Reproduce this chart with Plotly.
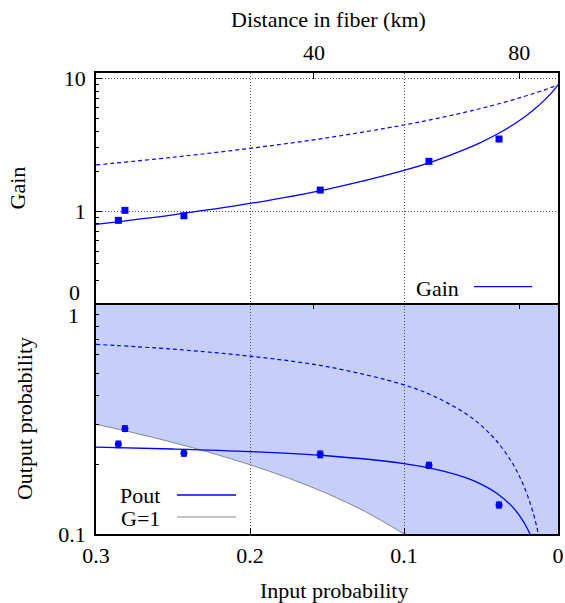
import plotly.graph_objects as go

# ---------------- data ----------------
# theory curves, sampled along input probability
p_gain = [0.3, 0.25, 0.2, 0.15, 0.1, 0.08, 0.06, 0.05, 0.04, 0.03, 0.025, 0.02, 0.015, 0.01, 0.005, 0.002, 0.0]
gain_solid = [0.795, 0.937, 1.141, 1.459, 2.023, 2.392, 2.928, 3.296, 3.771, 4.406, 4.811, 5.298, 5.894, 6.642, 7.607, 8.333, 8.9]
gain_dashed = [2.225, 2.543, 2.967, 3.56, 4.45, 4.944, 5.563, 5.933, 6.357, 6.846, 7.12, 7.417, 7.739, 8.091, 8.476, 8.725, 8.9]

p_pout_solid = [0.3, 0.25, 0.2, 0.15, 0.1, 0.08, 0.06, 0.05, 0.04, 0.03, 0.025, 0.02, 0.015]
pout_solid = [0.2385, 0.2342, 0.2282, 0.2189, 0.2023, 0.1913, 0.1757, 0.1648, 0.1508, 0.1322, 0.1203, 0.1060, 0.0884]
p_pout_dashed = [0.3, 0.25, 0.2, 0.15, 0.1, 0.08, 0.06, 0.05, 0.04, 0.03, 0.025, 0.02, 0.015, 0.01]
pout_dashed = [0.6675, 0.636, 0.593, 0.534, 0.445, 0.3956, 0.3338, 0.2967, 0.2543, 0.2054, 0.178, 0.1483, 0.1161, 0.0809]

# G = 1 line (Pout = Pin)
p_g1 = [0.3, 0.275, 0.25, 0.225, 0.2, 0.175, 0.15, 0.125, 0.1]
pout_g1 = [0.3, 0.275, 0.25, 0.225, 0.2, 0.175, 0.15, 0.125, 0.1]

# measured points
p_meas = [0.2855, 0.2812, 0.2429, 0.1544, 0.0838, 0.0383]
gain_meas = [0.851, 1.012, 0.922, 1.439, 2.369, 3.488]
pout_meas = [0.2455, 0.287, 0.225, 0.222, 0.199, 0.1337]
pout_err = [0.008, 0.008, 0.007, 0.007, 0.006, 0.004]

# axis ticks
x_ticks = [0.3, 0.2, 0.1, 0.0]
x_ticktext = ["0.3", "0.2", "0.1", "0"]
dist_km = [40, 80]
dist_text = ["40", "80"]
dist_pos = [10 ** (-0.02 * d) for d in dist_km]   # 0.2 dB/km loss

FONT = "Liberation Serif"
FS = 22
BLUE = "#0000ff"
GRID = dict(showgrid=True, gridcolor="#555555", griddash="1px,2px", gridwidth=1)

fig = go.Figure()

# ---------------- bottom panel ----------------
fill_x = p_g1 + [0.1, 0.0, 0.0, 0.3]
fill_y = pout_g1 + [0.05, 0.05, 1.2, 1.2]
fig.add_trace(go.Scatter(x=fill_x, y=fill_y, xaxis="x", yaxis="y", mode="lines",
                         fill="toself", fillcolor="rgba(0,36,233,0.2235)",
                         line=dict(width=0), hoverinfo="skip", showlegend=False))
fig.add_trace(go.Scatter(x=p_g1, y=pout_g1, xaxis="x", yaxis="y", mode="lines",
                         line=dict(color="#888888", width=1, shape="spline"), showlegend=False))
fig.add_trace(go.Scatter(x=p_pout_dashed, y=pout_dashed, xaxis="x", yaxis="y", mode="lines",
                         line=dict(color=BLUE, width=1.2, dash="4px,3px", shape="spline"), showlegend=False))
fig.add_trace(go.Scatter(x=p_pout_solid, y=pout_solid, xaxis="x", yaxis="y", mode="lines",
                         line=dict(color=BLUE, width=1.3, shape="spline"), showlegend=False))
fig.add_trace(go.Scatter(x=p_meas, y=pout_meas, xaxis="x", yaxis="y", mode="markers",
                         marker=dict(color=BLUE, size=7, symbol="circle"),
                         error_y=dict(type="data", array=pout_err, color=BLUE, thickness=1.2, width=3),
                         showlegend=False))
# invisible trace so the mirrored distance ticks on the lower panel are drawn
fig.add_trace(go.Scatter(x=dist_pos, y=[0.5, 0.5], xaxis="x4", yaxis="y", mode="markers",
                         marker=dict(opacity=0), hoverinfo="skip", showlegend=False))

# ---------------- top panel ----------------
fig.add_trace(go.Scatter(x=p_gain, y=gain_dashed, xaxis="x2", yaxis="y2", mode="lines",
                         line=dict(color=BLUE, width=1.2, dash="4px,3px", shape="spline"), showlegend=False))
fig.add_trace(go.Scatter(x=p_gain, y=gain_solid, xaxis="x2", yaxis="y2", mode="lines",
                         line=dict(color=BLUE, width=1.3, shape="spline"), showlegend=False))
fig.add_trace(go.Scatter(x=p_meas, y=gain_meas, xaxis="x2", yaxis="y2", mode="markers",
                         marker=dict(color=BLUE, size=7, symbol="square"), showlegend=False))
# invisible trace so the distance axis is drawn
fig.add_trace(go.Scatter(x=dist_pos, y=[2, 2], xaxis="x3", yaxis="y2", mode="markers",
                         marker=dict(opacity=0), hoverinfo="skip", showlegend=False))

tickfont = dict(family=FONT, size=FS, color="black")
common_x = dict(range=[0.3, 0.0], showline=True, linecolor="black", linewidth=1.5,
                zeroline=False, automargin=False)
DOM_SPLIT = 0.501

fig.update_layout(
    width=565, height=603,
    margin=dict(l=96, r=7, t=73, b=69),
    paper_bgcolor="white", plot_bgcolor="white",
    font=dict(family=FONT, size=FS, color="black"),
    showlegend=False,
    xaxis=dict(**common_x, domain=[0, 1], anchor="y", mirror=False,
               tickmode="array", tickvals=x_ticks, ticktext=x_ticktext,
               ticks="inside", ticklen=6, tickcolor="black", tickfont=tickfont,
               ticklabelstandoff=1,
               **GRID),
    yaxis=dict(type="log", domain=[0, DOM_SPLIT], range=[-1, 0.004], anchor="x",
               showline=True, linecolor="black", linewidth=1.5, mirror=True, automargin=False,
               tickmode="array", tickvals=[0.1, 1], ticktext=["0.1", ""],
               ticks="inside", ticklen=6, tickcolor="black", tickfont=tickfont,
               ticklabelstandoff=4, showgrid=False,
               minor=dict(tickmode="array", tickvals=[0.2, 0.3, 0.4, 0.5, 0.6, 0.7, 0.8, 0.9],
                          ticks="inside", ticklen=3, tickcolor="black", showgrid=False),
               title=dict(text="Output probability", font=tickfont, standoff=20)),
    xaxis2=dict(**common_x, domain=[0, 1], anchor="y2", mirror=True,
                tickmode="array", tickvals=x_ticks, showticklabels=False, ticks="",
                **GRID),
    yaxis2=dict(type="log", domain=[DOM_SPLIT, 1], range=[-0.693, 1.040], anchor="x2",
                showline=True, linecolor="black", linewidth=1.5, mirror=True, automargin=False,
                tickmode="array", tickvals=[1, 10], ticktext=["1", "10"],
                ticks="inside", ticklen=6, tickcolor="black", tickfont=tickfont,
                ticklabelstandoff=4,
                minor=dict(tickmode="array",
                           tickvals=[0.3, 0.4, 0.5, 0.6, 0.7, 0.8, 0.9, 2, 3, 4, 5, 6, 7, 8, 9],
                           ticks="inside", ticklen=3, tickcolor="black", showgrid=False),
                title=dict(text="Gain", font=tickfont, standoff=32),
                **GRID),
    xaxis3=dict(range=[0.3, 0.0], overlaying="x2", anchor="y2", side="top", automargin=False,
                tickmode="array", tickvals=dist_pos, ticktext=dist_text,
                ticks="inside", ticklen=6, tickcolor="black", tickfont=tickfont,
                ticklabelstandoff=8, showgrid=False, zeroline=False, showline=False),
    xaxis4=dict(range=[0.3, 0.0], overlaying="x", anchor="y", side="top", automargin=False,
                tickmode="array", tickvals=dist_pos, showticklabels=False,
                ticks="inside", ticklen=6, tickcolor="black",
                showgrid=False, zeroline=False, showline=False),
)

# axis titles (placed where the original has them)
fig.add_annotation(x=0.515, y=-0.1215, xref="paper", yref="paper", text="Input probability",
                   showarrow=False, xanchor="center", yanchor="middle", font=tickfont)
fig.add_annotation(x=0.503, y=1.115, xref="paper", yref="paper", text="Distance in fiber (km)",
                   showarrow=False, xanchor="center", yanchor="middle", font=tickfont)

# odd edge labels as in the original
fig.add_annotation(x=-0.031, y=0.5228, xref="paper", yref="paper", text="0", showarrow=False,
                   xanchor="right", yanchor="middle", font=tickfont)
fig.add_annotation(x=-0.0325, y=0.475, xref="paper", yref="paper", text="1", showarrow=False,
                   xanchor="right", yanchor="middle", font=tickfont)

# legend keys (text then line sample, as in the original)
fig.add_annotation(x=0.790, y=0.5336, xref="paper", yref="paper", text="Gain", showarrow=False,
                   xanchor="right", yanchor="middle", font=tickfont)
fig.add_shape(type="line", xref="paper", yref="paper", x0=0.818, x1=0.944, y0=0.5364, y1=0.5364,
              line=dict(color=BLUE, width=1.3))
fig.add_annotation(x=0.1429, y=0.0831, xref="paper", yref="paper", text="Pout", showarrow=False,
                   xanchor="right", yanchor="middle", font=tickfont)
fig.add_shape(type="line", xref="paper", yref="paper", x0=0.1753, x1=0.3030, y0=0.0846, y1=0.0846,
              line=dict(color=BLUE, width=1.3))
fig.add_annotation(x=0.1429, y=0.0347, xref="paper", yref="paper", text="G=1", showarrow=False,
                   xanchor="right", yanchor="middle", font=tickfont)
fig.add_shape(type="line", xref="paper", yref="paper", x0=0.1753, x1=0.3030, y0=0.0369, y1=0.0369,
              line=dict(color="#888888", width=1))

fig.write_html("out.html")
